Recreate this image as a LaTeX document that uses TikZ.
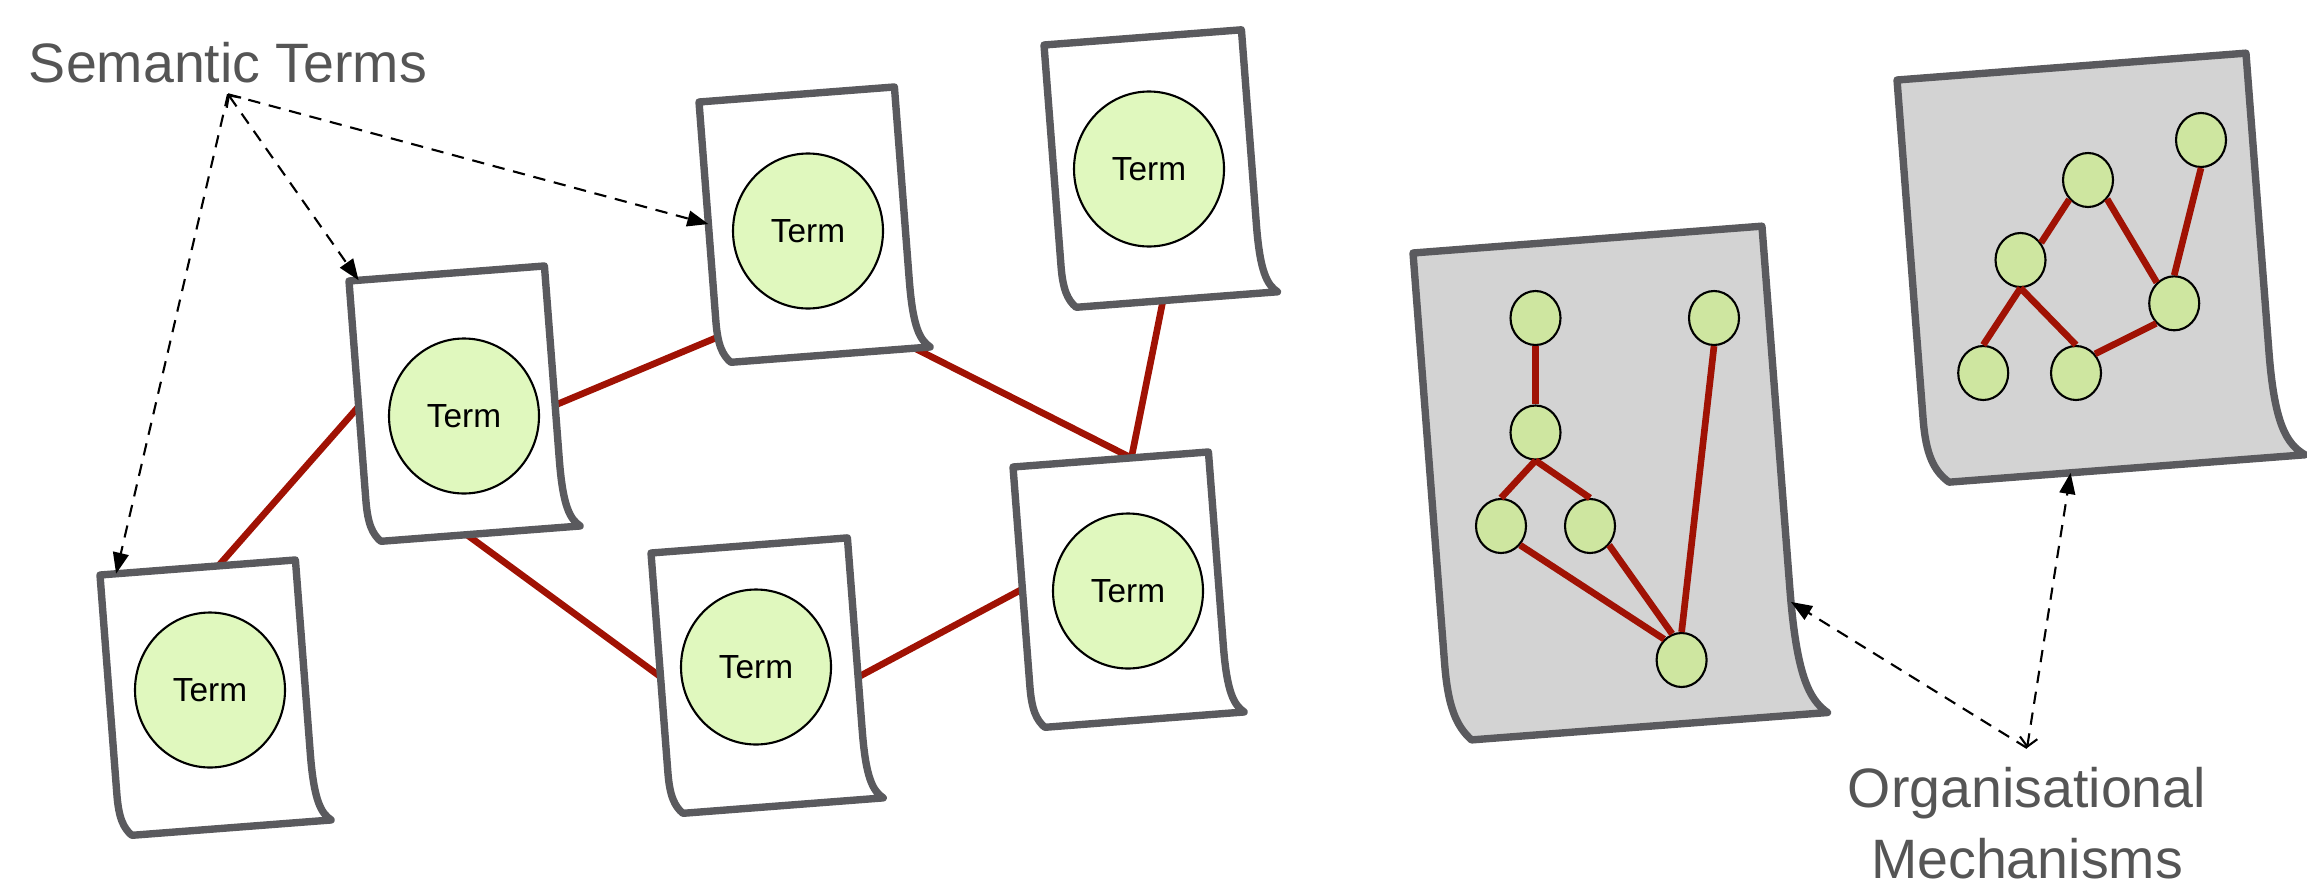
\documentclass[tikz,border=0pt]{standalone}
\usepackage{fontspec}
\setmainfont{Liberation Sans}
\usetikzlibrary{arrows.meta,calc,shapes.geometric}

\definecolor{pageedge}{RGB}{90,90,94}
\definecolor{orggray}{RGB}{211,211,211}
\definecolor{termgreen}{RGB}{224,248,190}
\definecolor{nodegreen}{RGB}{206,230,160}
\definecolor{linkred}{RGB}{160,18,4}
\definecolor{labelgray}{RGB}{85,85,85}

\pgfdeclarelayer{background}
\pgfsetlayers{background,main}

% curled sheet: name, top left corner, width, height, fill
\newcommand{\sheet}[5]{%
  \begin{scope}[shift={#2}, rotate=4.4]
    \draw[sheetline, fill=#5] (0,0) -- (#3,0) -- (#3,{-0.74*#4})
      .. controls (#3,{-0.92*#4}) and ({1.03*#3},{-0.97*#4}) .. ({1.08*#3},-#4)
      -- ({0.06*#3},-#4)
      .. controls ({0.02*#3},{-0.97*#4}) and (0,{-0.93*#4}) .. (0,{-0.84*#4}) -- cycle;
    \node[sheetbox, minimum width=#3cm, minimum height=#4cm] (#1) at ({#3/2},{-#4/2}) {};
  \end{scope}}

\begin{document}
\begin{tikzpicture}[
    sheetline/.style={draw=pageedge, line width=2.1pt, line join=round},
    sheetbox/.style={rectangle, inner sep=0pt, outer sep=0pt, transform shape},
    term/.style={ellipse, draw=black, line width=0.6pt, fill=termgreen, minimum width=1.5cm,
      minimum height=1.55cm, inner sep=0pt, font=\fontsize{9.5}{11}\selectfont},
    gnode/.style={ellipse, draw=black, line width=0.6pt, fill=nodegreen, minimum width=0.5cm,
      minimum height=0.54cm, inner sep=0pt},
    link/.style={linkred, line width=1.9pt},
    hint/.style={black, line width=0.6pt, dash pattern=on 3.5pt off 2.5pt,
      -{Triangle[length=6pt,width=4.5pt]}},
    note/.style={text=labelgray, font=\fontsize{15.8}{20}\selectfont}]
    \useasboundingbox (0,0) rectangle (23.07,-8.92);

    % Draw the sheets holding one term each
    \sheet{pg1}{(1.00,-5.75)}{1.96}{2.62}{white}
    \sheet{pg2}{(3.49,-2.81)}{1.96}{2.62}{white}
    \sheet{pg3}{(6.99,-1.02)}{1.96}{2.62}{white}
    \sheet{pg4}{(10.44,-0.45)}{1.98}{2.64}{white}
    \sheet{pg5}{(6.51,-5.53)}{1.97}{2.62}{white}
    \sheet{pg6}{(10.13,-4.67)}{1.96}{2.62}{white}

    % Draw the terms
    \node[term] (t1) at (2.10,-6.90) {Term};
    \node[term] (t2) at (4.64,-4.16) {Term};
    \node[term] (t3) at (8.08,-2.31) {Term};
    \node[term] (t4) at (11.49,-1.69) {Term};
    \node[term] (t5) at (7.56,-6.67) {Term};
    \node[term] (t6) at (11.28,-5.91) {Term};

    % Draw the links between the sheets
    \begin{pgfonlayer}{background}
        \draw[link] (pg1.81) -- (pg2.177);
        \draw[link] (pg2.-5) -- (pg3.227);
        \draw[link] (pg2.south) -- (pg5.176);
        \draw[link] (pg3.south east) -- (pg6.81);
        \draw[link] (pg4.south) -- (pg6.81);
        \draw[link] (pg5.-5) -- (pg6.175);
    \end{pgfonlayer}

    % Draw the two organising sheets
    \sheet{org1}{(14.13,-2.53)}{3.50}{4.90}{orggray}
    \sheet{org2}{(18.97,-0.80)}{3.50}{4.05}{orggray}

    % Draw the tree on the first one
    \node[gnode] (a1) at (15.355,-3.18) {};
    \node[gnode] (a2) at (17.14,-3.18) {};
    \node[gnode] (a3) at (15.355,-4.325) {};
    \node[gnode] (a4) at (15.01,-5.26) {};
    \node[gnode] (a5) at (15.90,-5.26) {};
    \node[gnode] (a6) at (16.816,-6.60) {};
    \draw[link] (a1.south) -- (a3.north);
    \draw[link] (a3.south) -- (a4.north);
    \draw[link] (a3.south) -- (a5.north);
    \draw[link] (a4.-45) -- (a6.130);
    \draw[link] (a5.-45) -- (a6.110);
    \draw[link] (a2.south) -- (a6.north);

    % Draw the graph on the second one
    \node[gnode] (b1) at (22.01,-1.40) {};
    \node[gnode] (b2) at (20.88,-1.80) {};
    \node[gnode] (b3) at (20.205,-2.60) {};
    \node[gnode] (b4) at (21.742,-3.033) {};
    \node[gnode] (b5) at (19.832,-3.73) {};
    \node[gnode] (b6) at (20.76,-3.73) {};
    \draw[link] (b3.40) -- (b2.226);
    \draw[link] (b2.-45) -- (b4.130);
    \draw[link] (b1.south) -- (b4.north);
    \draw[link] (b3.south) -- (b5.north);
    \draw[link] (b3.south) -- (b6.north);
    \draw[link] (b6.45) -- (b4.228);

    % Draw the labels and their pointers
    \node[note, anchor=base, inner sep=0.11cm] (semlbl) at (2.28,-0.82) {Semantic Terms};
    \node[note, anchor=north, align=center, inner sep=0.19cm] (orglbl) at (20.27,-7.48)
        {Organisational\\Mechanisms};
    \draw[hint] (semlbl.south) -- (pg1.122);
    \draw[hint, {Straight Barb[length=2.5pt,width=5pt]}-{Triangle[length=6pt,width=4.5pt]}]
        (semlbl.south) -- (pg2.124);
    \draw[hint] (semlbl.south) -- (pg3.175);
    \draw[hint] (orglbl.north) -- (org1.-37);
    \draw[hint, {Straight Barb[length=2.5pt,width=5pt]}-{Triangle[length=6pt,width=4.5pt]}]
        (orglbl.north) -- (org2.261);
\end{tikzpicture}
\end{document}
